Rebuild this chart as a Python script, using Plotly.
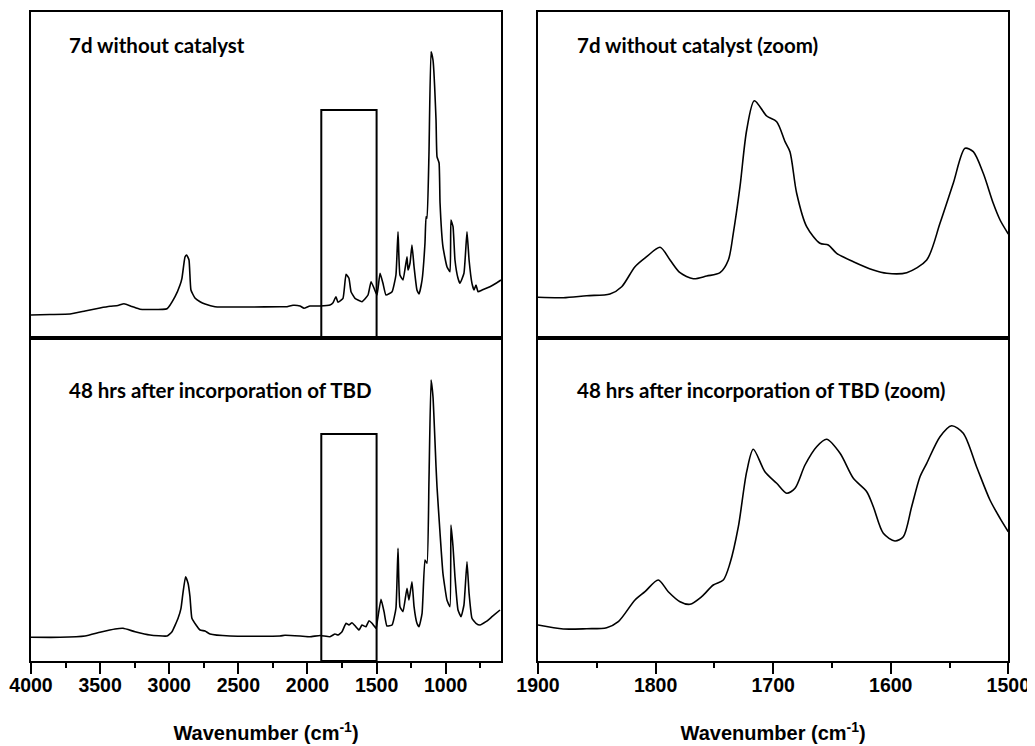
import plotly.graph_objects as go

# ---- data ----
wn_a = [4000, 3863, 3718, 3609, 3501, 3428, 3371, 3327, 3269, 3211, 3139, 3016, 2958, 2922, 2908, 2886, 2874, 2857,
        2843, 2814, 2777, 2741, 2669, 2416, 2199, 2148, 2105, 2054, 2025, 1982, 1909, 1837, 1815, 1794, 1779, 1743,
        1721, 1700, 1685, 1656, 1606, 1562, 1540, 1519, 1497, 1475, 1454, 1432, 1388, 1360, 1345, 1331, 1309, 1280,
        1273, 1258, 1244, 1229, 1208, 1193, 1171, 1150, 1142, 1135, 1121, 1106, 1092, 1070, 1063, 1048, 1041, 1020,
        991, 969, 962, 947, 933, 911, 897, 868, 846, 831, 810, 795, 781, 766, 737, 680, 636, 600]
abs_a = [23, 23.5, 24, 27, 30, 31.7, 32.5, 34.3, 31.5, 28.7, 28.5, 29.3, 41.3, 53, 59.7, 81, 83, 78,
         48, 40, 36.3, 34, 31.3, 31, 31.3, 31.3, 32.7, 32, 29.7, 32, 32, 33, 35.3, 41.3, 35.7, 39.7,
         63.7, 59.7, 46.3, 39.7, 36.3, 43, 56.3, 50, 43, 64.7, 54.7, 43, 46.3, 63, 106.3, 63, 58, 81.3,
         68, 75, 93, 71.3, 48, 44, 58, 94.7, 121.3, 119.7, 185, 286.3, 278, 218, 181.3, 175, 135, 91.3,
         71.3, 66.3, 118, 111.3, 78, 59.7, 54.7, 64.7, 106.3, 78, 54.7, 48, 53, 46.3, 48, 51.3, 54.7, 58]

wn_b = [4000, 3790, 3609, 3501, 3392, 3334, 3247, 3139, 3016, 2980, 2936, 2915, 2901, 2882, 2864, 2850, 2836,
        2806, 2777, 2741, 2705, 2560, 2199, 2163, 2054, 1982, 1909, 1837, 1801, 1779, 1750, 1721, 1700, 1678, 1656,
        1627, 1606, 1577, 1555, 1533, 1504, 1497, 1468, 1446, 1425, 1388, 1360, 1345, 1331, 1309, 1280, 1266, 1244,
        1229, 1208, 1193, 1171, 1150, 1135, 1121, 1106, 1092, 1070, 1063, 1041, 1020, 991, 969, 962, 947, 933, 911,
        889, 868, 846, 831, 810, 781, 752, 709, 665, 607]
abs_b = [23.7, 23.7, 25, 28.7, 32, 32.7, 29.3, 26, 25, 29.3, 42.7, 52.7, 67.7, 84.3, 77.7, 64.3, 42.7,
         36, 31, 30, 27, 25, 25, 25.7, 25, 24.3, 25.5, 24.3, 27, 26, 29.3, 37.7, 36, 38.3, 35.3,
         31, 36, 34.3, 40.3, 37.7, 32.7, 37.7, 61.7, 49.3, 35, 36, 52.7, 112.7, 54.3, 49.3, 72.7, 61, 79.3,
         54.3, 37.7, 34.3, 47.7, 101, 97.7, 181, 281, 264.3, 194.3, 174.3, 127.7, 87.7, 61, 54.3, 136, 114.3, 84.3, 51,
         44.3, 56, 99.3, 67.7, 42.7, 37.7, 36, 39.3, 44.3, 51]

wn_c = [1900, 1878.5, 1858.6, 1838.8, 1828.8, 1817.5, 1807.6, 1796.2, 1787.7, 1779.2, 1767.9, 1756.5, 1745.2,
        1738.1, 1733.9, 1728.2, 1722.5, 1716, 1705.5, 1697, 1689.9, 1685.7, 1680, 1671.5, 1660.2, 1653.1, 1646,
        1631.8, 1614.8, 1603.4, 1586.4, 1569.4, 1558.1, 1546.8, 1536.8, 1529.8, 1521.3, 1512.8, 1507, 1500]
abs_c = [40.7, 40.3, 42.3, 44, 51.3, 71.3, 81.3, 90.7, 78, 65.3, 59.3, 62, 65.3,
         78, 104.7, 151.3, 208, 237.3, 222, 216.3, 196.3, 186.3, 144.7, 111.3, 94.7, 93, 84.7,
         76.3, 68, 64.7, 65.3, 78, 114.7, 154.7, 189.7, 186.3, 164.7, 134.7, 118, 104]

wn_d = [1900, 1878.5, 1858.6, 1841.6, 1831.7, 1817.5, 1809, 1797.7, 1789.2, 1779.2, 1770.7, 1760.8, 1750.9,
        1742.4, 1736.7, 1729.6, 1722.5, 1716.9, 1707, 1697, 1688.5, 1681.4, 1672.9, 1663, 1654.5, 1643.1, 1631.8,
        1620.4, 1614.8, 1606.3, 1596.4, 1589.3, 1582.2, 1575.1, 1569.4, 1558.1, 1548.2, 1538.3, 1527, 1515.6,
        1507, 1500]
abs_d = [36, 32, 32.3, 33.3, 39.3, 61, 69.3, 81, 69.3, 59.3, 56.7, 64.3, 76,
         81, 97.7, 134.3, 189.3, 211.7, 189.3, 177.7, 167.7, 172.7, 196, 214.3, 221.7, 207.7, 182.7,
         169.3, 154.3, 127.7, 120, 124.3, 154.3, 184.3, 197.7, 224.3, 235.3, 227.7, 194.3, 161,
         142.7, 129.3]

labels = ["7d without catalyst", "48 hrs after incorporation of TBD",
          "7d without catalyst (zoom)", "48 hrs after incorporation of TBD (zoom)"]
ticks_full = [4000, 3500, 3000, 2500, 2000, 1500, 1000]
ticks_zoom = [1900, 1800, 1700, 1600, 1500]
box_x = [1900, 1500]
box_top = [228, 227]

OFF = 8  # page body margin
W, H = 1035 - OFF, 746 - OFF


def px(v):
    return (v - OFF) / W


def py(v):
    return 1 - (v - OFF) / H


fig = go.Figure()
line_full = dict(color="black", width=1.6, shape="spline", smoothing=0.4)
line_zoom = dict(color="black", width=1.6, shape="spline", smoothing=0.8)
fig.add_trace(go.Scatter(x=wn_a, y=abs_a, mode="lines", line=line_full, xaxis="x", yaxis="y"))
fig.add_trace(go.Scatter(x=wn_b, y=abs_b, mode="lines", line=line_full, xaxis="x2", yaxis="y2"))
fig.add_trace(go.Scatter(x=wn_c, y=abs_c, mode="lines", line=line_zoom, xaxis="x3", yaxis="y3"))
fig.add_trace(go.Scatter(x=wn_d, y=abs_d, mode="lines", line=line_zoom, xaxis="x4", yaxis="y4"))

L_dom = [px(31), px(501)]
R_dom = [px(538), px(1008.3)]
T_dom = [py(338), py(12)]
B_dom = [py(661), py(338)]

tickfont = dict(family="Liberation Sans, Arial", size=19.5, color="black", weight="bold")
titlefont = dict(family="Liberation Sans, Arial", size=20, color="black", weight="bold")


def xax(dom, rng, anchor, show, tickvals, minor_d):
    d = dict(domain=dom, range=rng, anchor=anchor, showline=True, linecolor="black", linewidth=2,
             mirror=True, showgrid=False, zeroline=False, fixedrange=True, automargin=False)
    if show:
        d.update(ticks="outside", ticklen=11, tickwidth=2, tickcolor="black", tickvals=tickvals,
                 tickfont=tickfont, ticklabelstandoff=-5,
                 minor=dict(ticks="outside", ticklen=5, tickwidth=2, tickcolor="black", dtick=minor_d,
                            tick0=0, showgrid=False),
                 title=dict(text="Wavenumber (cm<sup>-1</sup>)", font=titlefont, standoff=31))
    else:
        d.update(ticks="", showticklabels=False)
    return d


def yax(dom, rng, anchor):
    return dict(domain=dom, range=rng, anchor=anchor, showline=True, linecolor="black", linewidth=2,
                mirror=True, showgrid=False, zeroline=False, ticks="", showticklabels=False,
                fixedrange=True, automargin=False)


fig.update_layout(
    width=W, height=H, margin=dict(l=0, r=0, t=0, b=0, autoexpand=False),
    paper_bgcolor="white", plot_bgcolor="white", showlegend=False,
    xaxis=xax(L_dom, [4000, 600], "y", False, ticks_full, 250),
    yaxis=yax(T_dom, [0, 326], "x"),
    xaxis2=xax(L_dom, [4000, 600], "y2", True, ticks_full, 250),
    yaxis2=yax(B_dom, [0, 323], "x2"),
    xaxis3=xax(R_dom, [1900, 1500], "y3", False, ticks_zoom, 50),
    yaxis3=yax(T_dom, [0, 326], "x3"),
    xaxis4=xax(R_dom, [1900, 1500], "y4", True, ticks_zoom, 50),
    yaxis4=yax(B_dom, [0, 323], "x4"),
)

# zoom boxes
for xr, yr, top in [("x", "y", box_top[0]), ("x2", "y2", box_top[1])]:
    fig.add_shape(type="rect", xref=xr, yref=yr, x0=box_x[0], x1=box_x[1], y0=0, y1=top,
                  line=dict(color="black", width=2), fillcolor="rgba(0,0,0,0)")

labfont = dict(family="Lato, Open Sans", size=20.5, color="black", weight="bold")
for txt, x, y in [(labels[0], 67, 45), (labels[1], 67, 390), (labels[2], 575, 45), (labels[3], 575, 390)]:
    fig.add_annotation(text=txt, xref="paper", yref="paper", x=px(x), y=py(y),
                       xanchor="left", yanchor="middle", showarrow=False, font=labfont)

fig.write_html("out.html")
